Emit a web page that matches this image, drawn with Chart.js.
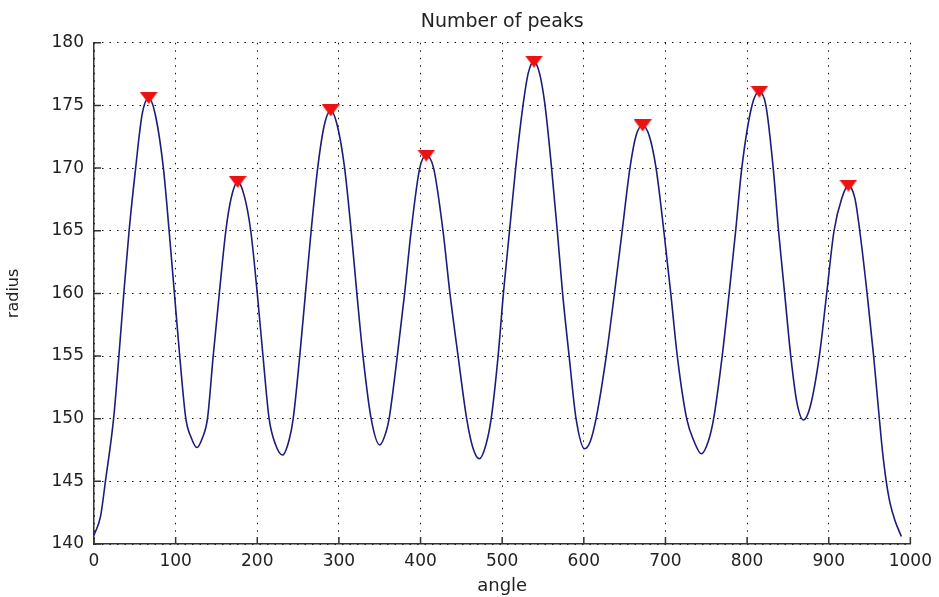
<!DOCTYPE html>
<html>
<head>
<meta charset="utf-8">
<script src="https://cdn.jsdelivr.net/npm/chart.js@4.4.1/dist/chart.umd.min.js"></script>
<style>
  html, body { margin: 0; padding: 0; background: #ffffff; }
  #wrap { width: 939px; height: 597px; }
</style>
</head>
<body>
<div id="wrap"><canvas id="c" width="939" height="597"></canvas></div>
<script>
// ---- data ----
const angle = [
  0, 8, 14, 24, 30.5, 36.5, 43, 51, 59, 67,
  75, 85, 92, 98.5, 105, 112.5, 119, 126,
  133, 139, 146, 153.5, 161.5, 168, 176,
  184, 192, 200, 207, 214.5, 222, 231,
  239, 244, 252, 259, 266, 274, 282, 290,
  298, 307, 315, 322, 329.5, 339.5, 350,
  358, 361.5, 371.5, 380.5, 388.5, 399, 407,
  416, 427.5, 436, 446, 456.5, 464, 472,
  480, 486.5, 495, 501.5, 509, 516.5, 525.5, 532, 539,
  546, 552.5, 560.5, 567.5, 574, 582, 590.5, 601,
  608, 615, 627.5, 637.5, 647, 656.5, 664, 672,
  680, 688.5, 698, 706.5, 714.5, 726, 735, 744,
  753, 759, 769.5, 778, 786, 793.5, 806, 815,
  823, 832, 838.5, 846, 853.5, 861, 869,
  877, 888.5, 897.5, 906.5, 916, 924,
  932, 938, 947, 955, 962, 966, 970, 975, 981, 989];
const radius = [
  140.7, 142.2, 145, 150, 155, 160, 165, 170, 174.3, 175.6,
  174.3, 170, 165, 160, 155, 150, 148.5, 147.7,
  148.5, 150, 155, 160, 165, 167.6, 168.9,
  167.8, 165, 160, 155, 150, 148.0, 147.1,
  148.3, 150, 155, 160, 165, 170, 173.4, 174.6,
  173.4, 170, 165, 160, 155, 150, 147.9,
  149, 150, 155, 160, 165, 170, 171.0,
  170, 165, 160, 155, 150, 147.7, 146.8,
  147.9, 150, 155, 160, 165, 170, 175, 177.6, 178.5,
  177.5, 175, 170, 165, 160, 155, 150, 147.6,
  148.2, 150, 155, 160, 165, 170, 172.6, 173.4,
  172.6, 170, 165, 160, 155, 150, 148.2, 147.2,
  148.3, 150, 155, 160, 165, 170, 175, 176.1,
  175, 170, 165, 160, 155, 151.3, 149.9,
  150.9, 155, 160, 165, 167.6, 168.6,
  167.6, 165, 160, 155, 150, 147.3, 145.2, 143.3, 141.9, 140.6];
const peakAngle = [67, 176, 290, 407, 539, 672, 815, 924];
const peakRadius = [175.6, 168.9, 174.6, 171.0, 178.5, 173.4, 176.1, 168.6];
const xTicks = [0, 100, 200, 300, 400, 500, 600, 700, 800, 900, 1000];
const yTicks = [140, 145, 150, 155, 160, 165, 170, 175, 180];
const titleText = 'Number of peaks';
const xLabel = 'angle';
const yLabel = 'radius';

// ---- marker image: filled downward triangle ----
const tri = document.createElement('canvas');
tri.width = 18; tri.height = 12;
(function () {
  const c = tri.getContext('2d');
  c.fillStyle = '#ee1111';
  c.beginPath(); c.moveTo(0, 0); c.lineTo(18, 0); c.lineTo(9, 12); c.closePath(); c.fill();
})();

const curve = angle.map((a, i) => ({ x: a, y: radius[i] }));
const peaks = peakAngle.map((a, i) => ({ x: a, y: peakRadius[i] }));

const inwardTicks = {
  id: 'inwardTicks',
  beforeDatasetsDraw(chart) {
    const { ctx, chartArea: a, scales: { x, y } } = chart;
    ctx.save();
    ctx.strokeStyle = '#333';
    ctx.lineWidth = 1.5;
    ctx.beginPath();
    xTicks.forEach(v => { const p = x.getPixelForValue(v); ctx.moveTo(p, a.bottom); ctx.lineTo(p, a.bottom - 7); });
    yTicks.forEach(v => { const p = y.getPixelForValue(v); ctx.moveTo(a.left, p); ctx.lineTo(a.left + 7, p); });
    ctx.stroke();
    ctx.restore();
  }
};

const FONT = 'DejaVu Sans';

new Chart(document.getElementById('c'), {
  type: 'scatter',
  data: {
    datasets: [
      {
        label: 'radius',
        data: curve,
        showLine: true,
        borderColor: '#1c1c7a',
        borderWidth: 1.6,
        pointRadius: 0,
        pointHoverRadius: 0,
        cubicInterpolationMode: 'monotone',
        fill: false,
        order: 2
      },
      {
        label: 'peaks',
        data: peaks,
        showLine: false,
        pointStyle: tri,
        pointRadius: 9,
        order: 1
      }
    ]
  },
  options: {
    responsive: false,
    animation: false,
    devicePixelRatio: 1,
    layout: { padding: { left: 0, right: 28, top: 0, bottom: 0 } },
    plugins: {
      legend: { display: false },
      tooltip: { enabled: false },
      title: {
        display: true,
        text: titleText,
        fullSize: false,
        color: '#222',
        font: { family: FONT, size: 19, weight: 'normal' },
        padding: { top: 11, bottom: 9 }
      }
    },
    scales: {
      x: {
        type: 'linear',
        min: 0, max: 1000,
        afterBuildTicks: s => { s.ticks = xTicks.map(v => ({ value: v })); },
        afterFit: s => { s.height = 53; },
        grid: { color: '#111', lineWidth: 1, drawTicks: false, tickLength: 0 },
        border: { display: true, color: '#333', width: 1.5, dash: [1.5, 6] },
        ticks: { color: '#222', font: { family: FONT, size: 17 }, padding: 7, autoSkip: false, maxRotation: 0,
                 callback: v => String(v) },
        title: { display: true, text: xLabel, color: '#222', font: { family: FONT, size: 18 }, padding: { top: 0, bottom: 0 } }
      },
      y: {
        type: 'linear',
        min: 140, max: 180,
        afterBuildTicks: s => { s.ticks = yTicks.map(v => ({ value: v })); },
        afterFit: s => { s.width = 94; },
        grid: { color: '#111', lineWidth: 1, drawTicks: false, tickLength: 0 },
        border: { display: true, color: '#333', width: 1.5, dash: [1.5, 6] },
        ticks: { color: '#222', font: { family: FONT, size: 17 }, padding: 10, autoSkip: false,
                 callback: v => String(v) },
        title: { display: true, text: yLabel, color: '#222', font: { family: FONT, size: 16 }, padding: { top: 4, bottom: 0 } }
      }
    }
  },
  plugins: [inwardTicks]
});
</script>
</body>
</html>
